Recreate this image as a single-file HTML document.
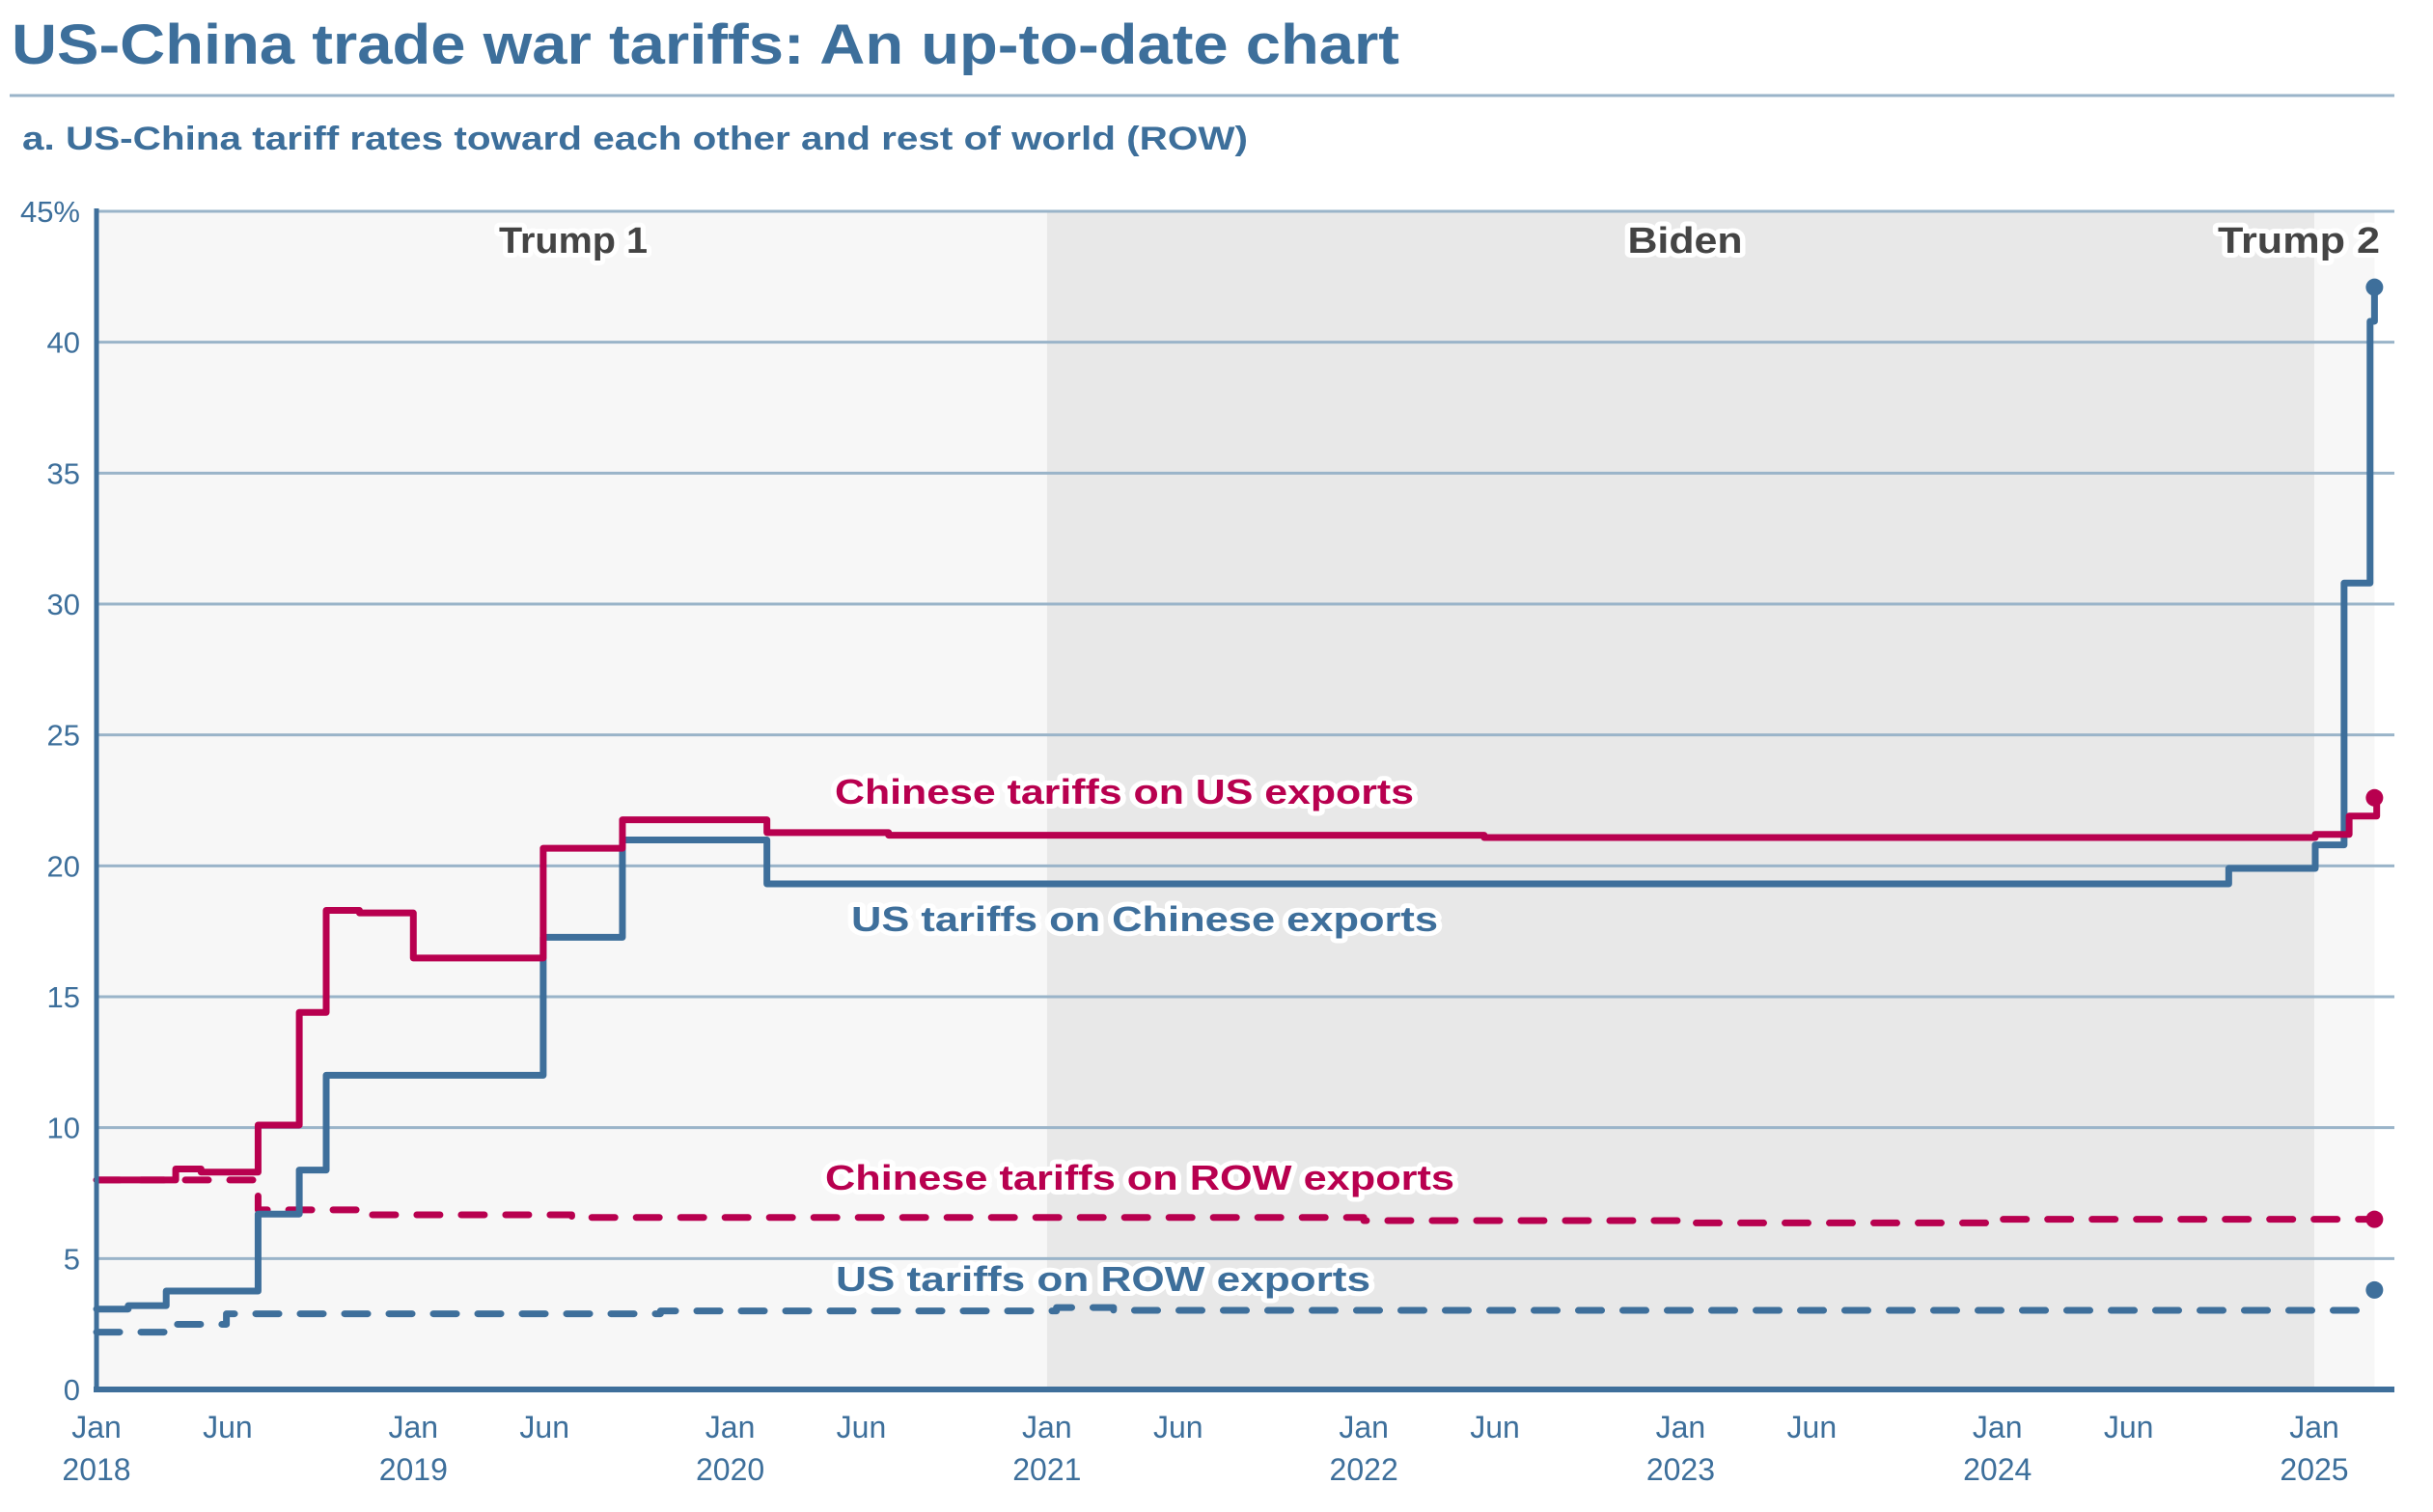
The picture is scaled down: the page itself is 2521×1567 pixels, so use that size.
<!DOCTYPE html>
<html><head><meta charset="utf-8"><style>
html,body{margin:0;padding:0;background:#fff;}
svg{display:block;font-family:"Liberation Sans",sans-serif;}
</style></head><body>
<svg id="chart" width="2521" height="1567" viewBox="0 0 2521 1567" xmlns="http://www.w3.org/2000/svg">
<text x="12" y="66" font-size="58" font-weight="bold" fill="#3d6f9b" textLength="1438" lengthAdjust="spacingAndGlyphs">US-China trade war tariffs: An up-to-date chart</text>
<line x1="10" y1="99" x2="2481" y2="99" stroke="#9ab4c9" stroke-width="3"/>
<text x="23" y="155" font-size="34" font-weight="bold" fill="#3d6f9b" textLength="1270" lengthAdjust="spacingAndGlyphs">a. US-China tariff rates toward each other and rest of world (ROW)</text>
<g id="plot"></g>
</svg>
<script>
const yTicks = [0,5,10,15,20,25,30,35,40,45];
const yearLabels = ["2018","2019","2020","2021","2022","2023","2024","2025"];
const usChinaDates = [2018.0,2018.10,2018.22,2018.51,2018.64,2018.725,2019.41,2019.66,2020.116,2024.73,2025.003,2025.094,2025.176,2025.19];
const usChinaVals  = [3.07,3.2,3.76,6.7,8.38,12.0,17.27,20.99,19.31,19.9,20.8,30.8,40.8,42.1];
const cnUsDates = [2018.0,2018.25,2018.33,2018.51,2018.64,2018.725,2018.83,2019.0,2019.41,2019.66,2020.116,2020.50,2022.38,2025.003,2025.11,2025.197];
const cnUsVals  = [8.0,8.42,8.3,10.1,14.4,18.3,18.2,16.48,20.67,21.76,21.27,21.17,21.08,21.2,21.9,22.6];
const cnRowDates = [2018.0,2018.51,2018.85,2019.5,2022.0,2022.99,2024.0];
const cnRowVals  = [8.0,6.86,6.67,6.57,6.45,6.36,6.5];
const usRowDates = [2018.0,2018.23,2018.41,2019.78,2021.03,2021.21];
const usRowVals  = [2.19,2.49,2.89,3.0,3.13,3.02];
const endDate = 2025.19;
const endUsChina = 42.1, endCnUs = 22.6, endCnRow = 6.5, endUsRow = 3.8;

const NS="http://www.w3.org/2000/svg";
const g=document.getElementById('plot');
const X0=100, X1=2398, Y0=1440, Y45=219;
const xs=d=>X0+(d-2018)*(X1-X0)/7;
const ys=v=>Y0-v*(Y0-Y45)/45;
function mk(tag,attrs,parent){const e=document.createElementNS(NS,tag);for(const k in attrs)e.setAttribute(k,attrs[k]);(parent||g).appendChild(e);return e;}

// background shading
let r=mk('rect',{x:X0,y:Y45,width:xs(2021)-X0,height:Y0-Y45,fill:'#f7f7f7'});


r=mk('rect',{x:xs(2021),y:Y45,width:xs(2025)-xs(2021),height:Y0-Y45,fill:'#e8e8e8'});


r=mk('rect',{x:xs(2025),y:Y45,width:xs(endDate)-xs(2025),height:Y0-Y45,fill:'#f7f7f7'});



// gridlines + y labels
yTicks.forEach(v=>{
  if(v>0){const l=mk('line',{x1:X0,x2:2481,y1:ys(v),y2:ys(v),stroke:'#9ab4c9','stroke-width':3});
  
  }
  const t=mk('text',{x:83,y:ys(v)+11,'font-size':31,fill:'#3d6f9b','text-anchor':'end'});
  t.textContent=v===45?'45%':String(v);
  
  
});

// x labels
yearLabels.forEach((y,i)=>{
  const yr=2018+i;
  let t=mk('text',{x:xs(yr),y:1490,'font-size':32,fill:'#3d6f9b','text-anchor':'middle'});
  t.textContent='Jan';
  
  
  t=mk('text',{x:xs(yr),y:1534,'font-size':32,fill:'#3d6f9b','text-anchor':'middle'});
  t.textContent=y;
  
  
  if(yr<2025){t=mk('text',{x:xs(yr+0.414),y:1490,'font-size':32,fill:'#3d6f9b','text-anchor':'middle'});
  t.textContent='Jun';
  
  }
});

// period labels
function halo(txt,x,y,anchor,size,fill,len,name){
  const t=mk('text',{x:x,y:y,'text-anchor':anchor,'font-size':size,'font-weight':'bold',fill:fill,stroke:'#fff','stroke-width':10,'stroke-linejoin':'round','paint-order':'stroke',textLength:len,lengthAdjust:'spacingAndGlyphs'});
  t.textContent=txt;
  
  
  return t;
}
halo('Trump 1',594,262,'middle',38,'#444',154,'trump1-label');
halo('Biden',1746,262,'middle',38,'#444',119,'biden-label');
halo('Trump 2',2466,262,'end',38,'#444',168,'trump2-label');

function stepPath(ds,vs){let p='M'+xs(ds[0])+','+ys(vs[0]);
  for(let i=1;i<ds.length;i++){p+=' H'+xs(ds[i])+' V'+ys(vs[i]);}
  p+=' H'+xs(endDate);return p;}
function series(ds,vs,color,dash,name){
  const a={d:stepPath(ds,vs),fill:'none',stroke:color,'stroke-width':7,'stroke-linejoin':'round','stroke-linecap':'round'};
  if(dash)a['stroke-dasharray']=dash;
  const p=mk('path',a);
  
  
}
const BLUE='#3e6f9b', RED='#b8004f';
series(usRowDates,usRowVals,BLUE,'24 22','us-row-tariff-line');
series(cnRowDates,cnRowVals,RED,'24 22','china-row-tariff-line');
series(usChinaDates,usChinaVals,BLUE,null,'us-on-china-tariff-line');
series(cnUsDates,cnUsVals,RED,null,'china-on-us-tariff-line');

[[endUsChina,BLUE,'us-on-china-end-dot'],[endCnUs,RED,'china-on-us-end-dot'],[endCnRow,RED,'china-row-end-dot'],[endUsRow,BLUE,'us-row-end-dot']].forEach(e=>{
  const c=mk('circle',{cx:xs(endDate),cy:ys(e[0]),r:9,fill:e[1]});
  
  
});

// axes
let ax=mk('line',{x1:X0,x2:X0,y1:Y45-3,y2:Y0,stroke:BLUE,'stroke-width':5});


ax=mk('line',{x1:X0-3,x2:2481,y1:Y0,y2:Y0,stroke:BLUE,'stroke-width':6});



// series labels
halo('Chinese tariffs on US exports',865,833,'start',36,RED,600,'china-on-us-label');
halo('US tariffs on Chinese exports',882,965,'start',36,BLUE,608,'us-on-china-label');
halo('Chinese tariffs on ROW exports',855,1233,'start',36,RED,652,'china-row-label');
halo('US tariffs on ROW exports',866,1338,'start',36,BLUE,554,'us-row-label');
</script>
</body></html>
